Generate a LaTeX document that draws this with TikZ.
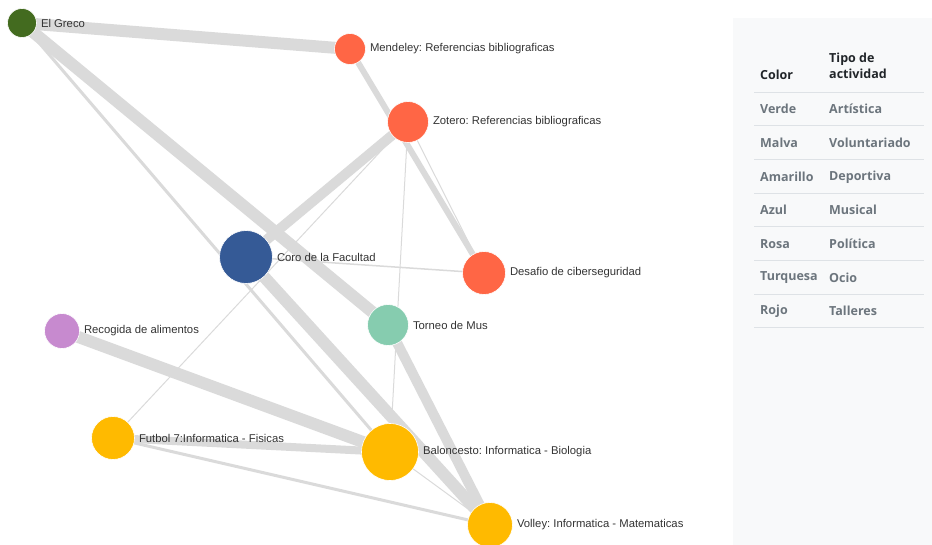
\documentclass[tikz,border=0pt]{standalone}
\usepackage{fontspec}
\setmainfont{Liberation Sans}
\newfontfamily\tablefont{Open Sans}
\usetikzlibrary{positioning}
\frenchspacing

\definecolor{edgegray}{HTML}{DADADA}
\definecolor{verde}{HTML}{436B1F}
\definecolor{rojo}{HTML}{FF6645}
\definecolor{azul}{HTML}{355A96}
\definecolor{turquesa}{HTML}{86CCAF}
\definecolor{malva}{HTML}{C78ACF}
\definecolor{amarillo}{HTML}{FFBA00}
\definecolor{panel}{HTML}{F8F9FA}
\definecolor{rule}{HTML}{DEE2E6}
\definecolor{head}{HTML}{212529}
\definecolor{cell}{HTML}{6C757D}

\pgfdeclarelayer{background}
\pgfsetlayers{background,main}

\begin{document}
\begin{tikzpicture}[x=1pt, y=-1pt,
    act/.style={circle, inner sep=0pt, draw=white, line width=0.6pt},
    lbl/.style={font=\fontsize{11.3}{13}\selectfont, text=black!80, inner sep=0pt},
    link/.style={draw=edgegray},
    th/.style={font=\tablefont\bfseries\fontsize{12.5}{16}\selectfont, text=head,
      anchor=west, inner sep=0pt, align=left},
    td/.style={font=\tablefont\bfseries\fontsize{12.5}{16}\selectfont, text=cell,
      anchor=west, inner sep=0pt}]
    \useasboundingbox (0,0) rectangle (932,545);
    % activities
    \node[act, fill=verde,    minimum size=29pt] (greco)      at (22,23)   {};
    \node[act, fill=rojo,     minimum size=31pt] (mendeley)   at (350,49)  {};
    \node[act, fill=rojo,     minimum size=41pt] (zotero)     at (408,122) {};
    \node[act, fill=azul,     minimum size=53pt] (coro)       at (246,257) {};
    \node[act, fill=rojo,     minimum size=43pt] (desafio)    at (484,273) {};
    \node[act, fill=turquesa, minimum size=41pt] (mus)        at (388,325) {};
    \node[act, fill=malva,    minimum size=35pt] (recogida)   at (62,331)  {};
    \node[act, fill=amarillo, minimum size=43pt] (futbol)     at (113,438) {};
    \node[act, fill=amarillo, minimum size=57pt] (baloncesto) at (390,452) {};
    \node[act, fill=amarillo, minimum size=45pt] (volley)     at (490,525) {};
    % labels
    \node[lbl, right=4pt of greco]      (greco-l)      {El Greco};
    \node[lbl, right=4pt of mendeley]   (mendeley-l)   {Mendeley: Referencias bibliograficas};
    \node[lbl, right=4pt of zotero]     (zotero-l)     {Zotero: Referencias bibliograficas};
    \node[lbl, right=4pt of coro]       (coro-l)       {Coro de la Facultad};
    \node[lbl, right=4pt of desafio]    (desafio-l)    {Desafio de ciberseguridad};
    \node[lbl, right=4pt of mus]        (mus-l)        {Torneo de Mus};
    \node[lbl, right=4pt of recogida]   (recogida-l)   {Recogida de alimentos};
    \node[lbl, right=4pt of futbol]     (futbol-l)     {Futbol 7:Informatica - Fisicas};
    \node[lbl, right=4pt of baloncesto] (baloncesto-l) {Baloncesto: Informatica - Biologia};
    \node[lbl, right=4pt of volley]     (volley-l)     {Volley: Informatica - Matematicas};
    % links
    \begin{pgfonlayer}{background}
    \draw[link, line width=12pt]  (greco.center)    -- (mendeley.center);
    \draw[link, line width=12pt]  (greco.center)    -- (mus.center);
    \draw[link, line width=3pt]   (greco.center)    -- (baloncesto.center);
    \draw[link, line width=6pt]   (mendeley.center) -- (desafio.center);
    \draw[link, line width=10pt]  (zotero.center)   -- (coro.center);
    \draw[link, line width=1pt]   (zotero.center)   -- (desafio.center);
    \draw[link, line width=1pt]   (zotero.center)   -- (baloncesto.center);
    \draw[link, line width=1pt]   (zotero.center)   -- (futbol.center);
    \draw[link, line width=1.5pt] (coro.center)     -- (desafio.center);
    \draw[link, line width=12pt]  (coro.center)     -- (volley.center);
    \draw[link, line width=10pt]  (mus.center)      -- (volley.center);
    \draw[link, line width=12pt]  (recogida.center) -- (baloncesto.center);
    \draw[link, line width=8pt]   (futbol.center)   -- (baloncesto.center);
    \draw[link, line width=3pt]   (futbol.center)   -- (volley.center);
    \draw[link, line width=1pt]   (baloncesto.center) -- (volley.center);
    \end{pgfonlayer}
    % legend panel
    \fill[panel] (733,18) rectangle (932,545);
    \node[th] (h-color) at (760,75) {Color};
    \node[th] (h-tipo)  at (829,66) {Tipo de\\actividad};
    \draw[rule, line width=1pt] (754,93) -- (924,93);
    \foreach \y/\c/\t in {109/Verde/Artística, 143/Malva/Voluntariado,
        177/Amarillo/Deportiva, 210/Azul/Musical, 244/Rosa/Política,
        278/Turquesa/Ocio, 311/Rojo/Talleres} {
      \node[td] at (760,\y) {\c};
      \node[td] at (829,\y) {\t};
      \draw[rule, line width=1pt] (754,\y+16.5) -- (924,\y+16.5);
    }
\end{tikzpicture}
\end{document}
